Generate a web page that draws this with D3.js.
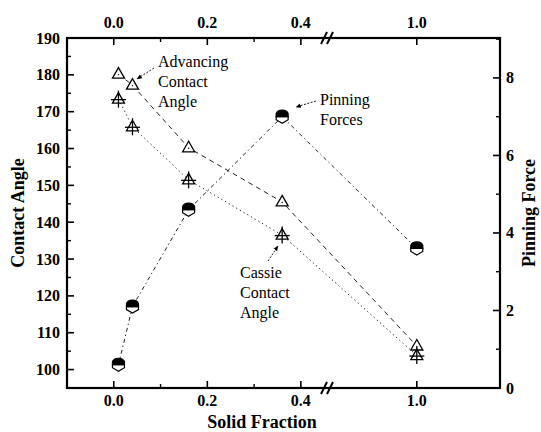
<!DOCTYPE html>
<html>
<head>
<meta charset="utf-8">
<script src="https://cdn.jsdelivr.net/npm/d3@7"></script>
<style>
  body { margin: 0; background: #fff; }
</style>
</head>
<body>
<div id="grafico"></div>
<script>
// dados
const solidFraction = [0.01, 0.04, 0.16, 0.36, 1.0];
const advancing = [180.2, 177.2, 160.2, 145.5, 106.4];
const cassie = [173.4, 165.9, 151.5, 136.5, 103.8];
const pinning = [0.6, 2.1, 4.6, 7.0, 3.6];

const xTicksMajor = [0.0, 0.2, 0.4, 1.0];
const xTicksMinor = [0.1, 0.3];
const yLeftTicks = [100, 110, 120, 130, 140, 150, 160, 170, 180, 190];
const yRightTicks = [0, 2, 4, 6, 8];

const W = 541, H = 432;
const pL = 67, pR = 500, pT = 38, pB = 388;
const breakX = 328;
const serif = '"Liberation Serif", "Times New Roman", "DejaVu Serif", serif';

const svg = d3.select('#grafico').append('svg')
    .attr('width', W)
    .attr('height', H)
    .attr('font-family', serif);

// eixo x partido: dois segmentos lineares
const x = d3.scaleLinear()
    .domain([-0.1, 0.458, 0.81, 1.178])
    .range([pL, breakX, breakX, pR]);

const yL = d3.scaleLinear().domain([95, 190]).range([pB, pT]);
const yR = d3.scaleLinear().domain([0, 9.03]).range([pB, pT]);

const boldFont = '16px';

// ticks e labels do eixo x (baixo e cima)
function ticksX(yPos, dir, labelY) {
    const g = svg.append('g');
    g.selectAll('line.maj').data(xTicksMajor).enter().append('line')
        .attr('x1', d => x(d)).attr('x2', d => x(d))
        .attr('y1', yPos).attr('y2', yPos + dir * 7)
        .attr('stroke', '#000').attr('stroke-width', 1.6);
    g.selectAll('line.min').data(xTicksMinor).enter().append('line')
        .attr('x1', d => x(d)).attr('x2', d => x(d))
        .attr('y1', yPos).attr('y2', yPos + dir * 4)
        .attr('stroke', '#000').attr('stroke-width', 1.4);
    g.selectAll('text').data(xTicksMajor).enter().append('text')
        .attr('x', d => x(d)).attr('y', labelY)
        .attr('text-anchor', 'middle')
        .attr('font-family', serif)
        .style('font-size', boldFont).style('font-weight', 'bold')
        .text(d => d.toFixed(1));
}
ticksX(pB, -1, 406);
ticksX(pT, 1, 28);

// eixo esquerdo
const gl = svg.append('g');
gl.selectAll('line.maj').data(yLeftTicks).enter().append('line')
    .attr('x1', pL).attr('x2', pL + 7)
    .attr('y1', d => yL(d)).attr('y2', d => yL(d))
    .attr('stroke', '#000').attr('stroke-width', 1.6);
gl.selectAll('line.min').data(yLeftTicks.map(d => d - 5)).enter().append('line')
    .attr('x1', pL).attr('x2', pL + 4)
    .attr('y1', d => yL(d)).attr('y2', d => yL(d))
    .attr('stroke', '#000').attr('stroke-width', 1.4);
gl.selectAll('text').data(yLeftTicks).enter().append('text')
    .attr('x', pL - 7).attr('y', d => yL(d) + 5.5)
    .attr('text-anchor', 'end')
    .attr('font-family', serif)
    .style('font-size', boldFont).style('font-weight', 'bold')
    .text(d => d);

// eixo direito
const gr = svg.append('g');
gr.selectAll('line.maj').data(yRightTicks).enter().append('line')
    .attr('x1', pR).attr('x2', pR - 7)
    .attr('y1', d => yR(d)).attr('y2', d => yR(d))
    .attr('stroke', '#000').attr('stroke-width', 1.6);
gr.selectAll('line.min').data(yRightTicks.map(d => d + 1)).enter().append('line')
    .attr('x1', pR).attr('x2', pR - 4)
    .attr('y1', d => yR(d)).attr('y2', d => yR(d))
    .attr('stroke', '#000').attr('stroke-width', 1.4);
gr.selectAll('text').data(yRightTicks).enter().append('text')
    .attr('x', pR + 6).attr('y', d => yR(d) + 5.5)
    .attr('text-anchor', 'start')
    .attr('font-family', serif)
    .style('font-size', boldFont).style('font-weight', 'bold')
    .text(d => d);

// moldura
svg.append('rect')
    .attr('x', pL).attr('y', pT)
    .attr('width', pR - pL).attr('height', pB - pT)
    .attr('fill', 'none').attr('stroke', '#000').attr('stroke-width', 2.2);

// simbolo de quebra //
[pT, pB].forEach(yy => {
    [-4, 2].forEach(dx => {
        svg.append('line')
            .attr('x1', breakX + dx - 3).attr('y1', yy + 6)
            .attr('x2', breakX + dx + 3).attr('y2', yy - 6)
            .attr('stroke', '#000').attr('stroke-width', 2);
    });
});

// titulos dos eixos
function titulo(txt, tr) {
    svg.append('text')
        .attr('transform', tr)
        .attr('text-anchor', 'middle')
        .attr('font-family', serif)
        .style('font-size', '18px').style('font-weight', 'bold')
        .text(txt);
}
titulo('Solid Fraction', 'translate(262,428)');
titulo('Contact Angle', 'translate(24,' + (pT + pB) / 2 + ') rotate(-90)');
titulo('Pinning Force', 'translate(535,' + (pT + pB) / 2 + ') rotate(-90)');

// linhas
const linhaL = d3.line().x(d => x(d[0])).y(d => yL(d[1]));
const linhaR = d3.line().x(d => x(d[0])).y(d => yR(d[1]));

svg.append('path')
    .attr('d', linhaL(d3.zip(solidFraction, advancing)))
    .attr('fill', 'none').attr('stroke', '#222').attr('stroke-width', 1)
    .style('stroke-dasharray', '5,4');
svg.append('path')
    .attr('d', linhaL(d3.zip(solidFraction, cassie)))
    .attr('fill', 'none').attr('stroke', '#222').attr('stroke-width', 1)
    .style('stroke-dasharray', '1.3,3');
svg.append('path')
    .attr('d', linhaR(d3.zip(solidFraction, pinning)))
    .attr('fill', 'none').attr('stroke', '#222').attr('stroke-width', 1)
    .style('stroke-dasharray', '4,3,1.3,3');

// marcadores
const tri = 'M0,-6.5L6,4L-6,4Z';

svg.append('g').selectAll('g')
    .data(d3.zip(solidFraction, advancing)).enter().append('g')
    .attr('transform', d => 'translate(' + x(d[0]) + ',' + yL(d[1]) + ')')
    .each(function () {
        const g = d3.select(this);
        g.append('path').attr('d', tri)
            .attr('fill', '#fff').attr('stroke', '#000').attr('stroke-width', 1.3);
        g.append('circle').attr('cx', 0).attr('cy', 0.5).attr('r', 0.7).attr('fill', '#000');
    });

svg.append('g').selectAll('g')
    .data(d3.zip(solidFraction, cassie)).enter().append('g')
    .attr('transform', d => 'translate(' + x(d[0]) + ',' + yL(d[1]) + ')')
    .each(function () {
        const g = d3.select(this);
        g.append('path').attr('d', tri)
            .attr('fill', '#fff').attr('stroke', '#000').attr('stroke-width', 1.3);
        g.append('line').attr('x1', -7.5).attr('x2', 7.5).attr('y1', 0.5).attr('y2', 0.5)
            .attr('stroke', '#000').attr('stroke-width', 1.3);
        g.append('line').attr('x1', 0).attr('x2', 0).attr('y1', -8.5).attr('y2', 8.5)
            .attr('stroke', '#000').attr('stroke-width', 1.3);
    });

const hexTop = 'M-6,0L-6,-3Q-5,-6.5 0,-6.5Q5,-6.5 6,-3L6,0Z';
const hexBot = 'M-6,0L-6,3L0,6.5L6,3L6,0Z';
svg.append('g').selectAll('g')
    .data(d3.zip(solidFraction, pinning)).enter().append('g')
    .attr('transform', d => 'translate(' + x(d[0]) + ',' + yR(d[1]) + ')')
    .each(function () {
        const g = d3.select(this);
        g.append('path').attr('d', hexBot)
            .attr('fill', '#fff').attr('stroke', '#000').attr('stroke-width', 1.2);
        g.append('path').attr('d', hexTop)
            .attr('fill', '#000').attr('stroke', '#000').attr('stroke-width', 1.2);
    });

// anotacoes
function nota(linhas, x0, y0) {
    const t = svg.append('text').attr('font-family', serif).style('font-size', '16px');
    linhas.forEach((l, i) => {
        t.append('tspan').attr('x', x0).attr('y', y0 + i * 20).text(l);
    });
}
nota(['Advancing', 'Contact', 'Angle'], 158, 67);
nota(['Pinning', 'Forces'], 320, 105);
nota(['Cassie', 'Contact', 'Angle'], 240, 278);

svg.append('defs').append('marker')
    .attr('id', 'seta')
    .attr('viewBox', '0 0 10 10')
    .attr('refX', 9).attr('refY', 5)
    .attr('markerWidth', 6).attr('markerHeight', 6)
    .attr('orient', 'auto')
    .append('path').attr('d', 'M0,1L10,5L0,9Z').attr('fill', '#000');

function seta(x1, y1, x2, y2) {
    svg.append('line')
        .attr('x1', x1).attr('y1', y1).attr('x2', x2).attr('y2', y2)
        .attr('stroke', '#000').attr('stroke-width', 0.9)
        .style('stroke-dasharray', '2,1.5')
        .attr('marker-end', 'url(#seta)');
}
seta(154, 68, 137, 79);
seta(316, 101, 296, 107);
seta(268, 261, 278, 246);
</script>
</body>
</html>
